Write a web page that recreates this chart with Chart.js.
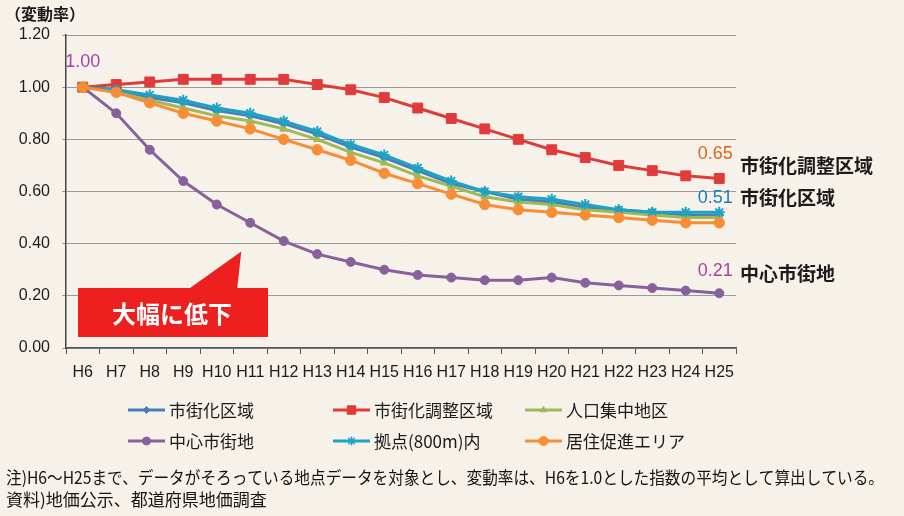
<!DOCTYPE html>
<html lang="ja">
<head>
<meta charset="utf-8">
<title>地価変動率の推移</title>
<script src="https://cdn.jsdelivr.net/npm/chart.js@4/dist/chart.umd.min.js"></script>
<style>
  html, body { margin: 0; padding: 0; background: #f6f2ea; }
  #wrap { width: 904px; height: 516px; }
</style>
</head>
<body>
<div id="wrap"><canvas id="c" width="904" height="516"></canvas></div>
<script>
// 年次（平成）
const categories = ['H6','H7','H8','H9','H10','H11','H12','H13','H14','H15',
                    'H16','H17','H18','H19','H20','H21','H22','H23','H24','H25'];

// 系列名
const seriesNames = ['市街化区域','市街化調整区域','人口集中地区','中心市街地','拠点(800m)内','居住促進エリア'];

// 変動率（H6 = 1.00）
const shigaikaKuiki   = [1.00,0.99,0.96,0.94,0.91,0.89,0.86,0.82,0.77,0.73,0.68,0.63,0.60,0.57,0.56,0.54,0.53,0.52,0.51,0.51];
const choseiKuiki     = [1.00,1.01,1.02,1.03,1.03,1.03,1.03,1.01,0.99,0.96,0.92,0.88,0.84,0.80,0.76,0.73,0.70,0.68,0.66,0.65];
const jinkoShuchu     = [1.00,0.98,0.95,0.92,0.89,0.87,0.84,0.80,0.75,0.71,0.66,0.62,0.58,0.56,0.55,0.53,0.52,0.51,0.50,0.50];
const chushinShigaichi= [1.00,0.90,0.76,0.64,0.55,0.48,0.41,0.36,0.33,0.30,0.28,0.27,0.26,0.26,0.27,0.25,0.24,0.23,0.22,0.21];
const kyotenNai       = [1.00,0.99,0.97,0.95,0.92,0.90,0.87,0.83,0.78,0.74,0.69,0.64,0.60,0.58,0.57,0.55,0.53,0.52,0.52,0.52];
const kyojuSokushin   = [1.00,0.98,0.94,0.90,0.87,0.84,0.80,0.76,0.72,0.67,0.63,0.59,0.55,0.53,0.52,0.51,0.50,0.49,0.48,0.48];

// 縦軸目盛
const yTickMin = 0, yTickMax = 1.2, yTickStep = 0.2;

const allSeries = [shigaikaKuiki, choseiKuiki, jinkoShuchu, chushinShigaichi, kyotenNai, kyojuSokushin];
const styles = [
  { color: '#4a7ebb', point: 'rectRot',  r: 4.5, lr: 3.5 },
  { color: '#e03b3b', point: 'rect',     r: 7,   lr: 6 },
  { color: '#9fba55', point: 'triangle', r: 4.5, lr: 3.5 },
  { color: '#88609b', point: 'circle',   r: 4.5, lr: 4 },
  { color: '#1fa3c4', point: 'star',     r: 5.5, lr: 4.5 },
  { color: '#f78e35', point: 'circle',   r: 5.2, lr: 4.5 }
];

const datasets = allSeries.map((data, i) => ({
  label: seriesNames[i],
  data: data,
  borderColor: styles[i].color,
  backgroundColor: styles[i].color,
  pointBorderColor: styles[i].color,
  pointBackgroundColor: styles[i].color,
  pointStyle: styles[i].point,
  pointRadius: styles[i].r,
  pointBorderWidth: styles[i].point === 'star' ? 2 : 1,
  borderWidth: 3,
  tension: 0,
  order: allSeries.length - 1 - i   // 後の系列を上に描く
}));

const JP = '"Noto Sans CJK JP", "Noto Sans", sans-serif';
const NUM = '"Liberation Sans", Arial, sans-serif';

// 値ラベル（系列の値から位置と文字を決める）
const valueLabels = [
  { ds: 3, idx: 0,  color: '#a443a8', dx: 0,  dy: -25 },
  { ds: 1, idx: 19, color: '#d8641e', dx: -4, dy: -24 },
  { ds: 0, idx: 19, color: '#1b7cc2', dx: -4, dy: -17 },
  { ds: 3, idx: 19, color: '#b23e98', dx: -4, dy: -22 }
];
// 右側の系列名ラベル
const nameLabels = [
  { ds: 1, dy: -13 },
  { ds: 0, dy: -17 },
  { ds: 3, dy: -19 }
];

const decor = {
  id: 'decor',
  beforeDraw(chart) {
    const ctx = chart.ctx;
    ctx.save();
    ctx.fillStyle = '#f6f2ea';
    ctx.fillRect(0, 0, chart.width, chart.height);
    ctx.restore();
  },
  afterDatasetsDraw(chart) {
    const ctx = chart.ctx;
    const xs = chart.scales.x, ys = chart.scales.y;
    ctx.save();
    // 数値ラベル
    ctx.font = '18px ' + NUM;
    ctx.textAlign = 'center';
    ctx.textBaseline = 'middle';
    valueLabels.forEach(l => {
      const v = allSeries[l.ds][l.idx];
      ctx.fillStyle = l.color;
      ctx.fillText(v.toFixed(2), xs.getPixelForValue(l.idx) + l.dx, ys.getPixelForValue(v) + l.dy);
    });
    // 系列名
    ctx.font = 'bold 19px ' + JP;
    ctx.textAlign = 'left';
    ctx.fillStyle = '#1c1c1c';
    nameLabels.forEach(l => {
      const last = allSeries[l.ds].length - 1;
      ctx.fillText(seriesNames[l.ds], chart.chartArea.right + 4, ys.getPixelForValue(allSeries[l.ds][last]) + l.dy);
    });

    // 吹き出し「大幅に低下」
    const ax = xs.getPixelForValue(5) - 9, ay = ys.getPixelForValue(0.37);
    const L = 78, R = 268, T = 288, B = 337;
    ctx.fillStyle = '#ee1f1f';
    ctx.beginPath();
    ctx.moveTo(L, T);
    ctx.lineTo(190, T);
    ctx.lineTo(ax, ay);
    ctx.lineTo(ax - 4, T);
    ctx.lineTo(R, T);
    ctx.lineTo(R, B);
    ctx.lineTo(L, B);
    ctx.closePath();
    ctx.fill();
    ctx.fillStyle = '#ffffff';
    ctx.font = 'bold 24px ' + JP;
    ctx.textAlign = 'center';
    ctx.fillText('大幅に低下', 172, 314);
    ctx.restore();
  },
  afterDraw(chart) {
    const ctx = chart.ctx;
    ctx.save();
    // 縦軸タイトル
    ctx.fillStyle = '#1c1c1c';
    ctx.font = 'bold 16px ' + JP;
    ctx.textBaseline = 'middle';
    ctx.textAlign = 'left';
    ctx.fillText('（変動率）', 5, 14);

    // 凡例（3列×2行）
    const colX = [128, 333, 525], rowY = [410, 441];
    chart.data.datasets.forEach((ds, i) => {
      const x = colX[i % 3], y = rowY[Math.floor(i / 3)];
      const st = styles[i];
      ctx.strokeStyle = st.color;
      ctx.fillStyle = st.color;
      ctx.lineWidth = 3;
      ctx.beginPath();
      ctx.moveTo(x, y);
      ctx.lineTo(x + 37, y);
      ctx.stroke();
      ctx.lineWidth = st.point === 'star' ? 1.5 : 1;
      Chart.helpers.drawPoint(ctx, { pointStyle: st.point, radius: st.lr, rotation: 0, borderWidth: ctx.lineWidth }, x + 18.5, y);
      ctx.fillStyle = '#1c1c1c';
      ctx.font = '17px ' + JP;
      ctx.fillText(ds.label, x + 41, y + 1);
    });

    // 注記
    ctx.fillStyle = '#141414';
    ctx.font = '17px ' + JP;
    ctx.fillText('注)H6～H25まで、データがそろっている地点データを対象とし、変動率は、H6を1.0とした指数の平均として算出している。', 6, 478, 878);
    ctx.fillText('資料)地価公示、都道府県地価調査', 6, 500, 296);
    ctx.restore();
  }
};

new Chart(document.getElementById('c'), {
  type: 'line',
  data: { labels: categories, datasets: datasets },
  options: {
    responsive: false,
    animation: false,
    events: [],
    layout: { padding: { left: 0, right: 168, top: 35, bottom: 0 } },
    plugins: { legend: { display: false }, tooltip: { enabled: false }, title: { display: false } },
    scales: {
      x: {
        offset: true,
        afterFit(scale) { scale.height = 168; },
        grid: { display: true, offset: true, drawOnChartArea: false, drawTicks: true, tickLength: 6, color: '#555' },
        border: { display: true, color: '#555', width: 1.5 },
        ticks: { autoSkip: false, maxRotation: 0, minRotation: 0, padding: 9, color: '#1c1c1c', font: { family: NUM, size: 16 } }
      },
      y: {
        min: yTickMin, max: yTickMax,
        afterFit(scale) { scale.width = 66; },
        grid: { color: '#9a9a9a', lineWidth: 1, tickLength: 4, drawTicks: true },
        border: { display: true, color: '#444', width: 1.5 },
        ticks: { stepSize: yTickStep, padding: 12, color: '#1c1c1c', font: { family: NUM, size: 16 },
                 callback: v => Number(v).toFixed(2) }
      }
    }
  },
  plugins: [decor]
});
</script>
</body>
</html>
